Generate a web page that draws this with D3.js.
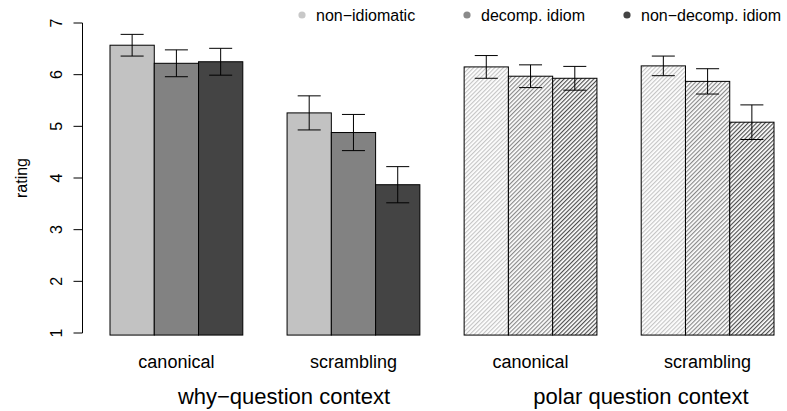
<!DOCTYPE html>
<html>
<head>
<meta charset="utf-8">
<script src="https://cdn.jsdelivr.net/npm/d3@7"></script>
<style>
  body { margin: 0; background: #fff; }
  text { font-family: "Liberation Sans", Arial, Helvetica, sans-serif; fill: #000; }
</style>
</head>
<body>
<div id="chart"></div>
<script>
// conditions (legend) and the four bar groups
const conditions = ["non\u2212idiomatic", "decomp. idiom", "non\u2212decomp. idiom"];
const groups = ["why-canonical", "why-scrambling", "polar-canonical", "polar-scrambling"];
const groupLabels = ["canonical", "scrambling", "canonical", "scrambling"];
const contexts = ["why\u2212question context", "polar question context"];

// mean ratings per group, one value per condition
const whyCanonical = [6.57, 6.22, 6.25];
const whyScrambling = [5.26, 4.88, 3.87];
const polarCanonical = [6.15, 5.97, 5.93];
const polarScrambling = [6.17, 5.87, 5.08];

// half widths of the error bars
const errWhyCanonical = [0.21, 0.26, 0.26];
const errWhyScrambling = [0.33, 0.35, 0.35];
const errPolarCanonical = [0.22, 0.22, 0.23];
const errPolarScrambling = [0.19, 0.245, 0.335];

const yTicks = [1, 2, 3, 4, 5, 6, 7];

const means = [whyCanonical, whyScrambling, polarCanonical, polarScrambling];
const errs = [errWhyCanonical, errWhyScrambling, errPolarCanonical, errPolarScrambling];
const hatched = [false, false, true, true];

const colors = ['#c2c2c2', '#828282', '#444444'];
const legendColors = ['#c8c8c8', '#8a8a8a', '#444444'];

const width = 787, height = 411;

const svg = d3.select('#chart')
    .append('svg')
    .attr('width', width)
    .attr('height', height);

// hatch patterns, one per colour (R style density lines at 45 degrees)
const defs = svg.append('defs');
const hs = 3;
colors.forEach((c, i) => {
    const p = defs.append('pattern')
        .attr('id', 'hatch' + i)
        .attr('patternUnits', 'userSpaceOnUse')
        .attr('width', hs)
        .attr('height', hs)
        .attr('patternTransform', 'rotate(45)');
    p.append('rect').attr('width', hs).attr('height', hs).attr('fill', '#fff');
    p.append('line')
        .attr('x1', 0.6).attr('y1', 0).attr('x2', 0.6).attr('y2', hs)
        .attr('stroke', c)
        .attr('stroke-width', 1.1);
});

// scales
const x0 = d3.scaleBand()
    .domain(groups)
    .range([110, 774])
    .paddingInner(0.25)
    .paddingOuter(0);

const x1 = d3.scaleBand()
    .domain(d3.range(conditions.length))
    .range([0, x0.bandwidth()]);

const y = d3.scaleLinear()
    .domain([1, 7])
    .range([333, 23]);

const base = 0.96; // bars run just below the axis minimum

// bars
const g = svg.selectAll('.group')
    .data(groups)
    .enter()
    .append('g')
    .attr('class', 'group')
    .attr('transform', d => `translate(${x0(d)},0)`);

g.selectAll('rect')
    .data((d, gi) => means[gi].map((v, i) => ({ v, i, e: errs[gi][i], h: hatched[gi] })))
    .enter()
    .append('rect')
    .attr('x', d => x1(d.i))
    .attr('y', d => y(d.v))
    .attr('width', x1.bandwidth())
    .attr('height', d => y(base) - y(d.v))
    .attr('fill', d => d.h ? `url(#hatch${d.i})` : colors[d.i])
    .attr('stroke', '#000')
    .attr('stroke-width', 1);

// error bars
const eb = g.selectAll('.err')
    .data((d, gi) => means[gi].map((v, i) => ({ v, i, e: errs[gi][i] })))
    .enter()
    .append('g')
    .attr('class', 'err')
    .attr('transform', d => `translate(${x1(d.i) + x1.bandwidth() / 2},0)`)
    .attr('stroke', '#000')
    .attr('stroke-width', 1);

const cap = x1.bandwidth() * 0.26;
eb.append('line')
    .attr('x1', 0).attr('x2', 0)
    .attr('y1', d => y(d.v + d.e))
    .attr('y2', d => y(d.v - d.e));
eb.append('line')
    .attr('x1', -cap).attr('x2', cap)
    .attr('y1', d => y(d.v + d.e))
    .attr('y2', d => y(d.v + d.e));
eb.append('line')
    .attr('x1', -cap).attr('x2', cap)
    .attr('y1', d => y(d.v - d.e))
    .attr('y2', d => y(d.v - d.e));

// y axis
const yAxis = svg.append('g')
    .attr('transform', 'translate(82.5,0)')
    .call(d3.axisLeft(y).tickValues(yTicks).tickFormat(d3.format('d')).tickSize(9));
yAxis.select('.domain').attr('d', `M0,${y(1)}V${y(7)}`);
yAxis.selectAll('.tick').attr('transform', null);
yAxis.selectAll('.tick line')
    .attr('y1', d => y(d)).attr('y2', d => y(d));
yAxis.selectAll('.tick text')
    .style('font-family', '"Liberation Sans", Arial, sans-serif')
    .style('font-size', '16px')
    .attr('text-anchor', 'middle')
    .attr('transform', d => `translate(-21,${y(d)}) rotate(-90)`)
    .attr('x', 0)
    .attr('y', 0)
    .attr('dy', '0');

svg.append('text')
    .attr('transform', `translate(27,${y(4)}) rotate(-90)`)
    .attr('text-anchor', 'middle')
    .style('font-size', '16px')
    .text('rating');

// category labels
svg.selectAll('.cat')
    .data(groups)
    .enter()
    .append('text')
    .attr('class', 'cat')
    .attr('x', d => x0(d) + x0.bandwidth() / 2)
    .attr('y', 368)
    .attr('text-anchor', 'middle')
    .style('font-size', '18px')
    .text((d, i) => groupLabels[i]);

// context labels
const contextX = [284, 641];
svg.selectAll('.ctx')
    .data(contexts)
    .enter()
    .append('text')
    .attr('class', 'ctx')
    .attr('x', (d, i) => contextX[i])
    .attr('y', 404)
    .attr('text-anchor', 'middle')
    .style('font-size', '22px')
    .text(d => d);

// legend
const legendX = [302, 467, 627];
const lg = svg.selectAll('.leg')
    .data(conditions)
    .enter()
    .append('g')
    .attr('class', 'leg')
    .attr('transform', (d, i) => `translate(${legendX[i]},15)`);
lg.append('circle')
    .attr('r', 3.6)
    .attr('fill', (d, i) => legendColors[i]);
lg.append('text')
    .attr('x', 14)
    .attr('y', 5.5)
    .style('font-size', '16px')
    .text(d => d);
</script>
</body>
</html>
